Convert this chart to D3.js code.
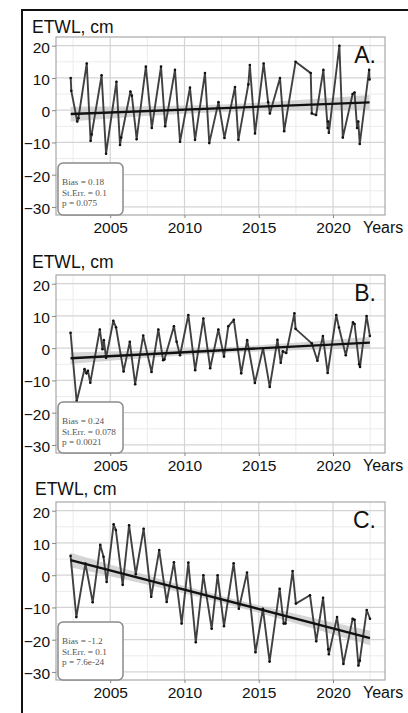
<!DOCTYPE html>
<html>
<head>
<meta charset="utf-8">
<script src="https://cdn.jsdelivr.net/npm/d3@7"></script>
<style>
  html, body { margin: 0; padding: 0; background: #fff; }
  svg { display: block; }
  .axis text { font-family: "Liberation Sans", Arial, sans-serif; fill: #111; }
</style>
</head>
<body>
<svg id="chart" width="408" height="713"></svg>
<script>
// Extreme total water level anomalies (cm) per station, by decimal year
const timeA = [2002.34, 2002.38, 2002.78, 2002.86, 2003.42, 2003.68, 2003.75, 2004.42, 2004.72, 2005.42,
  2005.66, 2005.74, 2006.36, 2006.46, 2006.78, 2007.40, 2007.80, 2008.42, 2008.70, 2009.36,
  2009.70, 2010.37, 2010.71, 2011.38, 2011.67, 2012.29, 2012.69, 2013.40, 2013.63, 2014.30,
  2014.40, 2014.75, 2015.33, 2015.63, 2015.75, 2016.43, 2016.71, 2017.48, 2018.50, 2018.57,
  2018.86, 2019.35, 2019.64, 2019.67, 2019.72, 2020.43, 2020.66, 2021.32, 2021.45, 2021.62,
  2021.70, 2021.80, 2022.43, 2022.46];
const etwlA = [10.0, 6.0, -3.5, -2.5, 14.5, -9.5, -7.5, 10.8, -13.5, 8.8,
  -10.8, -8.5, 5.8, 4.5, -9.0, 13.5, -5.5, 13.5, -5.0, 12.5,
  -9.8, 7.0, -9.2, 11.5, -10.2, 2.5, -8.6, 7.2, -9.2, 8.0,
  14.0, -7.2, 14.5, 2.5, -1.0, 10.0, -6.5, 15.0, 11.5, -1.0,
  -1.5, 12.5, -5.5, -3.5, -7.0, 20.0, -8.5, 5.0, 5.5, -5.5,
  -3.5, -10.5, 12.5, 9.5];

const timeB = [2002.33, 2002.74, 2003.27, 2003.40, 2003.50, 2003.66, 2004.30, 2004.48, 2004.57, 2004.72,
  2005.21, 2005.39, 2005.90, 2006.32, 2006.68, 2007.22, 2007.78, 2008.24, 2008.56, 2008.65,
  2009.29, 2009.47, 2009.70, 2010.26, 2010.72, 2011.27, 2011.73, 2012.28, 2012.66, 2012.95,
  2013.32, 2013.82, 2014.22, 2014.74, 2015.29, 2015.74, 2016.26, 2016.48, 2016.62, 2016.85,
  2017.40, 2017.48, 2018.57, 2018.95, 2019.32, 2019.64, 2020.22, 2020.40, 2020.86, 2021.34,
  2021.45, 2021.76, 2021.82, 2022.26, 2022.48];
const etwlB = [4.8, -16.5, -6.5, -7.8, -7.0, -10.7, 5.8, -0.3, 2.5, -3.0,
  8.5, 6.5, -7.2, 2.0, -11.2, 3.9, -7.4, 5.8, -3.7, -3.5,
  6.8, 2.0, -2.2, 10.3, -6.8, 9.2, -6.2, 5.8, -2.6, 6.8,
  8.8, -7.8, 2.5, -10.8, 0.0, -12.0, 2.6, -4.5, -1.0, -1.5,
  10.8, 6.0, 1.5, -3.9, 3.8, -7.7, 10.3, 6.4, -2.2, 8.0,
  7.5, -5.0, -5.8, 10.0, 3.8];

const timeC = [2002.33, 2002.72, 2003.33, 2003.82, 2004.33, 2004.55, 2004.76, 2005.23, 2005.38, 2005.84,
  2006.27, 2006.72, 2007.25, 2007.76, 2008.30, 2008.80, 2009.29, 2009.81, 2010.26, 2010.76,
  2011.27, 2011.83, 2012.23, 2012.66, 2013.31, 2013.66, 2014.21, 2014.78, 2015.28, 2015.73,
  2016.41, 2016.68, 2016.80, 2017.28, 2017.50, 2018.45, 2018.87, 2019.33, 2019.68, 2019.72,
  2020.27, 2020.70, 2021.32, 2021.45, 2021.71, 2021.80, 2022.27, 2022.49];
const etwlC = [6.0, -13.0, 3.6, -8.4, 9.4, 5.7, -2.1, 15.8, 14.0, -3.0,
  15.5, 0.3, 14.4, -6.7, 7.8, -8.3, 4.0, -15.0, 3.9, -20.8,
  0.0, -16.6, 0.0, -15.8, 3.7, -10.4, 0.8, -23.9, -10.4, -26.8,
  -4.2, -15.0, -15.0, 1.3, -8.8, -6.2, -20.5, -7.0, -23.0, -24.5,
  -13.0, -27.5, -13.5, -13.8, -28.0, -26.5, -10.8, -13.5];

// Linear trend statistics (slope in cm per year)
const panelLetters = ["A.", "B.", "C."];
const biasValues = [0.18, 0.24, -1.2];
const stErrValues = ["0.1", "0.078", "0.1"];
const pValues = ["0.075", "0.0021", "7.6e-24"];
const trendStart = [-1.2, -3.1, 4.7];   // fitted level at the first observation
const meanErr = [0.6, 0.45, 0.55];      // standard error of the fitted mean level

// Axis ticks
const xTicks = [2005, 2010, 2015, 2020];
const xMinorTicks = [2002.5, 2007.5, 2012.5, 2017.5, 2022.5];
const yTicks = [20, 10, 0, -10, -20, -30];
const yMinorTicks = [15, 5, -5, -15, -25];

const series = [
  { time: timeA, etwl: etwlA },
  { time: timeB, etwl: etwlB },
  { time: timeC, etwl: etwlC }
];

// Layout
const plotLeft = 56, plotRight = 385, plotH = 178;
const plotTops = [37, 275, 502];
const titleBaselines = [33, 268, 495];
const titleX = [32, 32, 35];
const boxOffsets = [126, 127, 120];

const svg = d3.select("#chart");
const font = '"Liberation Sans", Arial, sans-serif';

const x = d3.scaleLinear().domain([2001.35, 2023.5]).range([plotLeft, plotRight]);

series.forEach((s, i) => {
  const top = plotTops[i];
  const bottom = top + plotH;
  const y = d3.scaleLinear().domain([-32.5, 22.7]).range([bottom, top]);
  const g = svg.append("g");

  const clipId = "clip" + i;
  g.append("clipPath").attr("id", clipId)
    .append("rect").attr("x", plotLeft).attr("y", top)
    .attr("width", plotRight - plotLeft).attr("height", plotH);

  const plot = g.append("g").attr("clip-path", `url(#${clipId})`);

  // grid: minor then major
  plot.selectAll(".vminor").data(xMinorTicks).join("line")
    .attr("x1", d => x(d)).attr("x2", d => x(d)).attr("y1", top).attr("y2", bottom)
    .attr("stroke", "#ebebeb").attr("stroke-width", 1);
  plot.selectAll(".hminor").data(yMinorTicks).join("line")
    .attr("x1", plotLeft).attr("x2", plotRight).attr("y1", d => y(d)).attr("y2", d => y(d))
    .attr("stroke", "#ebebeb").attr("stroke-width", 1);
  plot.selectAll(".vmajor").data(xTicks).join("line")
    .attr("x1", d => x(d)).attr("x2", d => x(d)).attr("y1", top).attr("y2", bottom)
    .attr("stroke", "#d4d4d4").attr("stroke-width", 1.2);
  plot.selectAll(".hmajor").data(yTicks).join("line")
    .attr("x1", plotLeft).attr("x2", plotRight).attr("y1", d => y(d)).attr("y2", d => y(d))
    .attr("stroke", "#d4d4d4").attr("stroke-width", 1.2);

  // trend with confidence band
  const t0 = s.time[0], t1 = s.time[s.time.length - 1];
  const tm = (t0 + t1) / 2;
  const fit = t => trendStart[i] + biasValues[i] * (t - t0);
  const se = +stErrValues[i];
  const half = t => 1.96 * Math.sqrt(meanErr[i] ** 2 + (se * (t - tm)) ** 2);
  const tb = d3.range(0, 41).map(k => t0 + (t1 - t0) * k / 40);
  plot.append("path")
    .attr("d", d3.area().x(t => x(t)).y0(t => y(fit(t) - half(t))).y1(t => y(fit(t) + half(t)))(tb))
    .attr("fill", "#c8c8c8").attr("opacity", 0.75);

  // observations
  const pts = s.time.map((t, k) => [t, s.etwl[k]]);
  plot.append("path")
    .attr("d", d3.line().x(d => x(d[0])).y(d => y(d[1]))(pts))
    .attr("fill", "none").attr("stroke", "#404040").attr("stroke-width", 1.9)
    .attr("stroke-linejoin", "round");
  plot.selectAll(".pt").data(pts).join("circle")
    .attr("cx", d => x(d[0])).attr("cy", d => y(d[1])).attr("r", 1.3).attr("fill", "#111");

  plot.append("line")
    .attr("x1", x(t0)).attr("y1", y(fit(t0))).attr("x2", x(t1)).attr("y2", y(fit(t1)))
    .attr("stroke", "#111").attr("stroke-width", 2.4);

  // panel border
  g.append("rect").attr("x", plotLeft).attr("y", top)
    .attr("width", plotRight - plotLeft).attr("height", plotH)
    .attr("fill", "none").attr("stroke", "#a8a8a8").attr("stroke-width", 1.2);

  // axes
  const ya = g.append("g").attr("class", "axis").attr("transform", `translate(${plotLeft},0)`)
    .call(d3.axisLeft(y).tickValues(yTicks).tickSize(4).tickPadding(2).tickFormat(d3.format("d")));
  ya.select(".domain").remove();
  ya.selectAll(".tick line").attr("stroke", "#888");
  ya.selectAll("text").attr("font-size", 15.5).attr("dy", "0.42em");

  const xa = g.append("g").attr("class", "axis").attr("transform", `translate(0,${bottom})`)
    .call(d3.axisBottom(x).tickValues(xTicks).tickSize(3).tickPadding(4).tickFormat(d3.format("d")));
  xa.select(".domain").remove();
  xa.selectAll(".tick line").attr("stroke", "#888");
  xa.selectAll("text").attr("font-size", 15.5);

  g.append("text").attr("x", 363).attr("y", bottom + 18)
    .attr("font-family", font).attr("font-size", 16).attr("fill", "#111").text("Years");

  // titles
  g.append("text").attr("x", titleX[i]).attr("y", titleBaselines[i])
    .attr("font-family", font).attr("font-size", 17.5).attr("fill", "#111")
    .text("ETWL, cm");
  g.append("text").attr("x", 376).attr("y", top + 26).attr("text-anchor", "end")
    .attr("font-family", font).attr("font-size", 23).attr("fill", "#111")
    .text(panelLetters[i]);

  // statistics box
  const bx = 58, by = top + boxOffsets[i], bw = 65, bh = bottom - by;
  g.append("rect").attr("x", bx).attr("y", by).attr("width", bw).attr("height", bh)
    .attr("rx", 5).attr("fill", "#fff").attr("stroke", "#8a8a8a").attr("stroke-width", 1.5);
  const lines = [`Bias = ${biasValues[i]}`, `St.Err. = ${stErrValues[i]}`, `p = ${pValues[i]}`];
  g.selectAll(".stat").data(lines).join("text")
    .attr("x", bx + 4).attr("y", (d, k) => by + 22 + k * 10.7)
    .attr("font-family", '"Liberation Serif", "Times New Roman", serif')
    .attr("font-size", 9.2).attr("fill", "#555").text(d => d);
});

// outer frame
svg.append("path").attr("d", "M22,713V10H408")
  .attr("fill", "none").attr("stroke", "#111").attr("stroke-width", 2);
</script>
</body>
</html>
